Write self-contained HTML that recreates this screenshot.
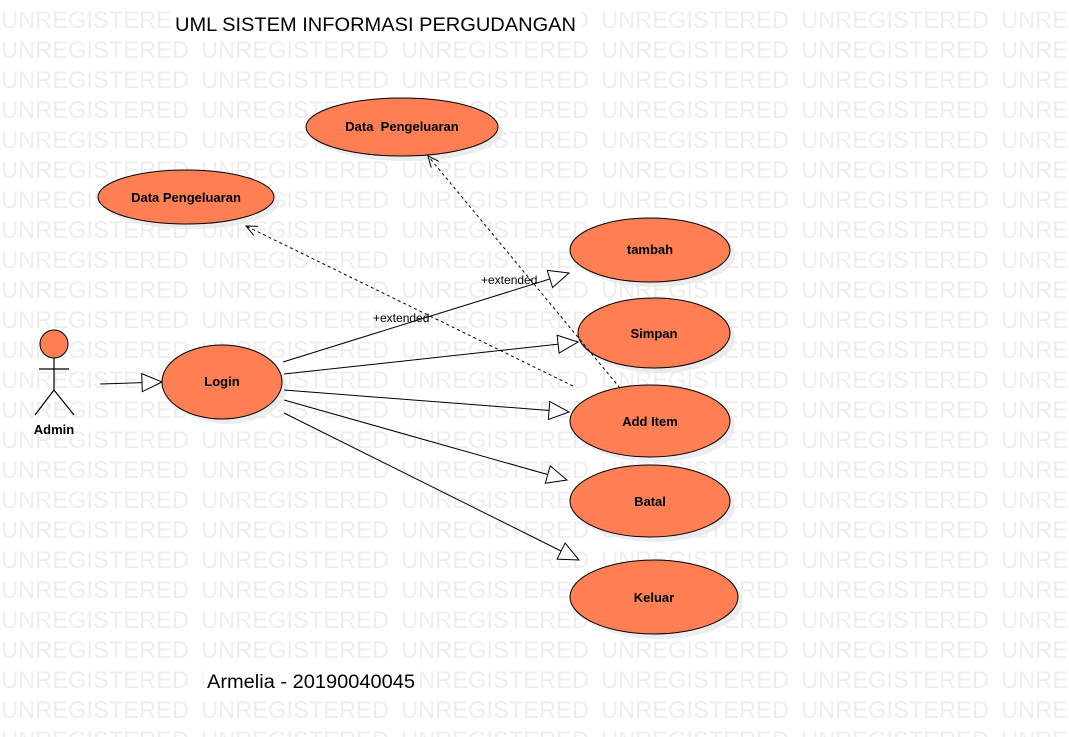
<!DOCTYPE html>
<html><head><meta charset="utf-8"><style>
html,body{margin:0;padding:0;background:#fff;}
svg{display:block;font-family:"Liberation Sans",sans-serif;}
</style></head><body>
<svg width="1069" height="737" viewBox="0 0 1069 737" xmlns="http://www.w3.org/2000/svg">
<defs>
<pattern id="wm" x="0" y="0" width="200" height="30" patternUnits="userSpaceOnUse">
<text x="1" y="28" font-size="24" fill="#eeeeee" textLength="188" lengthAdjust="spacingAndGlyphs">UNREGISTERED</text>
</pattern>
<marker id="tri" markerUnits="userSpaceOnUse" markerWidth="24" markerHeight="22" refX="21" refY="10" orient="auto">
<path d="M1,1 L21,10 L1,19 z" fill="#fff" stroke="#000" stroke-width="1"/>
</marker>
<marker id="vee" markerUnits="userSpaceOnUse" markerWidth="14" markerHeight="12" refX="12" refY="6" orient="auto">
<path d="M1,1 L12,6 L1,11" fill="none" stroke="#000" stroke-width="1"/>
</marker>
</defs>
<rect x="0" y="0" width="1069" height="737" fill="url(#wm)"/>

<rect x="172" y="10" width="410" height="28" fill="#fff"/>
<text x="175" y="31" font-size="19" fill="#000" textLength="401" lengthAdjust="spacingAndGlyphs">UML SISTEM INFORMASI PERGUDANGAN</text>
<rect x="204" y="668" width="214" height="26" fill="#fff"/>
<text x="207" y="688" font-size="19" fill="#000" textLength="208" lengthAdjust="spacingAndGlyphs">Armelia - 20190040045</text>

<g fill="#ff7f55" stroke="#000" stroke-width="1">
<g fill="#e6e6e6" stroke="none" opacity="0.7">
<ellipse cx="407" cy="132" rx="96" ry="29"/>
<ellipse cx="191" cy="202" rx="88" ry="27"/>
<ellipse cx="655" cy="255" rx="80" ry="32"/>
<ellipse cx="659" cy="338" rx="76" ry="35"/>
<ellipse cx="655" cy="426" rx="80" ry="36"/>
<ellipse cx="655" cy="506" rx="80" ry="36"/>
<ellipse cx="659" cy="602" rx="84" ry="37"/>
<ellipse cx="227" cy="387" rx="60" ry="37"/>
</g>
<ellipse cx="402" cy="127" rx="96" ry="29"/>
<ellipse cx="186" cy="197" rx="88" ry="27"/>
<ellipse cx="650" cy="250" rx="80" ry="32"/>
<ellipse cx="654" cy="333" rx="76" ry="35"/>
<ellipse cx="650" cy="421" rx="80" ry="36"/>
<ellipse cx="650" cy="501" rx="80" ry="36"/>
<ellipse cx="654" cy="597" rx="84" ry="37"/>
<ellipse cx="222" cy="382" rx="60" ry="37"/>
</g>

<g font-size="13" font-weight="bold" fill="#000" text-anchor="middle">
<text x="402" y="131" xml:space="preserve">Data  Pengeluaran</text>
<text x="186" y="202">Data Pengeluaran</text>
<text x="650" y="254">tambah</text>
<text x="654" y="338">Simpan</text>
<text x="650" y="426">Add Item</text>
<text x="650" y="506">Batal</text>
<text x="654" y="602">Keluar</text>
<text x="222" y="386">Login</text>
<text x="54" y="434">Admin</text>
</g>

<circle cx="54" cy="344" r="14" fill="#ff7f55" stroke="#000"/>
<g stroke="#000" stroke-width="1.2" fill="none">
<line x1="54" y1="358" x2="54" y2="390"/>
<line x1="39" y1="369" x2="69" y2="369"/>
<line x1="54" y1="390" x2="35" y2="415"/>
<line x1="54" y1="390" x2="74" y2="415"/>
</g>

<g stroke="#000" stroke-width="1" fill="none" marker-end="url(#tri)">
<line x1="100" y1="384" x2="162" y2="382"/>
<line x1="283" y1="362" x2="569" y2="273"/>
<line x1="284" y1="374" x2="578" y2="342"/>
<line x1="284" y1="390" x2="569" y2="412"/>
<line x1="284" y1="400" x2="567" y2="480"/>
<line x1="284" y1="413" x2="579" y2="560"/>
</g>

<g stroke="#000" stroke-width="1" fill="none" stroke-dasharray="3,3" marker-end="url(#vee)">
<line x1="573" y1="386" x2="246" y2="226"/>
<line x1="620" y1="388" x2="428" y2="156"/>
</g>
<g font-size="12" fill="#000">
<text x="373" y="322">+extended</text>
<text x="481" y="284">+extended</text>
</g>
</svg>
</body></html>
